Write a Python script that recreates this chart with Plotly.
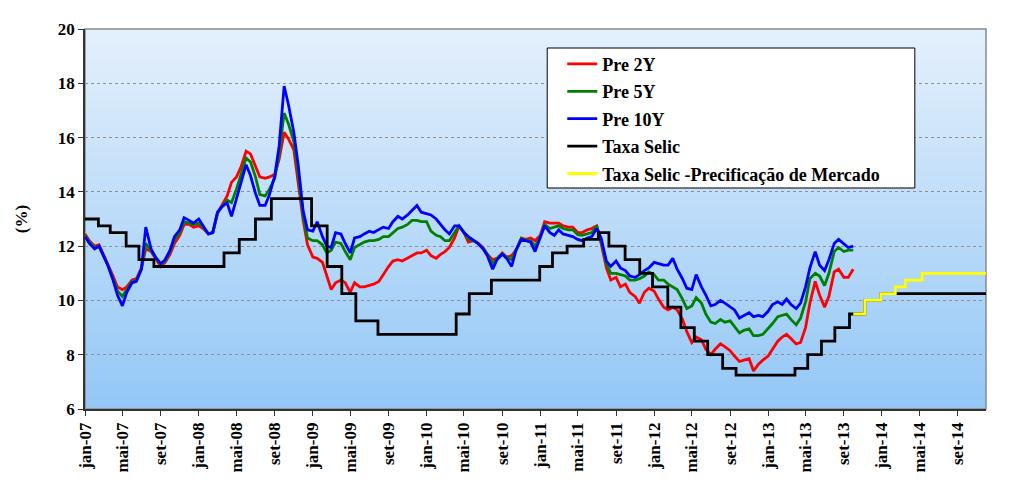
import pandas as pd
import plotly.graph_objects as go

# ---- Data ----
# Semi-monthly sampling dates for the yield curves (Jan 2007 - Sep 2013)
curve_dates = pd.date_range("2007-01-01", periods=163, freq="SMS")

pre_2y = [12.45, 12.2, 12.0, 12.05, 11.7, 11.35, 10.9, 10.5, 10.4, 10.5, 10.75, 10.8,
          11.2, 11.9, 11.8, 11.55, 11.25, 11.4, 11.7, 12.1, 12.4, 12.8, 12.8, 12.7,
          12.75, 12.65, 12.45, 12.5, 13.2, 13.5, 13.85, 14.35, 14.55, 14.9, 15.5, 15.4,
          14.95, 14.55, 14.5, 14.55, 14.65, 15.2, 16.2, 15.95, 15.55, 14.3, 12.95, 12.05,
          11.6, 11.55, 11.4, 10.9, 10.4, 10.65, 10.75, 10.65, 10.3, 10.65, 10.5, 10.5,
          10.55, 10.6, 10.7, 10.95, 11.25, 11.45, 11.5, 11.45, 11.55, 11.65, 11.75, 11.75,
          11.85, 11.65, 11.55, 11.7, 11.8, 11.95, 12.3, 12.75, 12.5, 12.15, 12.2, 12.1,
          11.95, 11.7, 11.5, 11.55, 11.75, 11.6, 11.65, 11.85, 12.3, 12.25, 12.3, 12.2,
          12.4, 12.9, 12.85, 12.85, 12.85, 12.75, 12.7, 12.7, 12.5, 12.5, 12.6, 12.65,
          12.75, 12.1, 11.2, 10.75, 10.85, 10.5, 10.6, 10.3, 10.15, 9.9, 10.3, 10.45,
          10.35, 10.05, 9.75, 9.65, 9.75, 9.65, 9.3, 8.85, 8.45, 8.65, 8.55, 8.2,
          8.0, 8.2, 8.4, 8.3, 8.15, 7.95, 7.75, 7.8, 7.85, 7.4, 7.65, 7.8,
          7.95, 8.2, 8.5, 8.65, 8.75, 8.6, 8.4, 8.45, 9.0, 9.9, 10.7, 10.2,
          9.75, 10.15, 11.05, 11.15, 10.85, 10.85, 11.15]

pre_5y = [12.4, 12.15, 11.95, 12.0, 11.65, 11.3, 10.8, 10.35, 10.15, 10.4, 10.7, 10.75,
          11.15, 12.1, 11.85, 11.6, 11.35, 11.45, 11.8, 12.25, 12.5, 12.9, 12.85, 12.8,
          12.85, 12.7, 12.45, 12.5, 13.2, 13.45, 13.7, 13.6, 14.1, 14.65, 15.25, 15.1,
          14.55, 13.9, 13.85, 14.1, 14.5, 15.4, 16.9, 16.5, 15.85, 14.65, 13.1, 12.3,
          12.2, 12.2, 12.05, 11.75, 11.85, 12.15, 12.1, 11.8, 11.5, 11.95, 12.05, 12.15,
          12.2, 12.2, 12.25, 12.35, 12.35, 12.5, 12.65, 12.7, 12.8, 12.95, 12.95, 12.9,
          12.9, 12.55, 12.4, 12.35, 12.2, 12.2, 12.5, 12.75, 12.5, 12.25, 12.2, 12.1,
          11.92, 11.7, 11.35, 11.55, 11.72, 11.6, 11.5, 11.85, 12.28, 12.22, 12.2, 12.0,
          12.35, 12.8, 12.65, 12.7, 12.75, 12.65, 12.6, 12.6, 12.42, 12.4, 12.45, 12.5,
          12.75, 12.2, 11.35, 11.0, 11.0, 10.95, 10.9, 10.75, 10.75, 10.8, 10.9, 11.05,
          10.95, 10.75, 10.75, 10.6, 10.5, 10.4, 10.05, 9.7, 9.8, 10.1, 9.9, 9.5,
          9.2, 9.15, 9.3, 9.2, 9.25, 9.05, 8.8, 8.9, 8.95, 8.7, 8.7, 8.75,
          8.95, 9.15, 9.4, 9.45, 9.5, 9.3, 9.1, 9.35, 9.95, 10.8, 11.0, 10.9,
          10.55, 11.0, 11.8, 11.95, 11.8, 11.85, 11.85]

pre_10y = [12.35, 12.1, 11.9, 12.0, 11.65, 11.3, 10.75, 10.2, 9.8, 10.3, 10.65, 10.7,
           11.15, 12.7, 11.9, 11.6, 11.35, 11.5, 11.85, 12.35, 12.6, 13.05, 12.95, 12.85,
           13.0, 12.75, 12.45, 12.5, 13.25, 13.45, 13.6, 13.1, 13.75, 14.4, 15.0, 14.6,
           13.95, 13.5, 13.5, 13.9, 14.6, 15.7, 17.9, 17.2, 16.2, 15.0, 13.3, 12.6,
           12.55, 12.9, 12.35, 12.0, 11.95, 12.5, 12.45, 12.1, 11.75, 12.3, 12.35, 12.45,
           12.55, 12.5, 12.6, 12.7, 12.65, 12.9, 13.1, 13.0, 13.15, 13.3, 13.5, 13.25,
           13.2, 13.15, 13.0, 12.8, 12.6, 12.45, 12.75, 12.75, 12.5, 12.35, 12.2, 12.1,
           11.9, 11.65, 11.15, 11.5, 11.7, 11.55, 11.25, 11.85, 12.25, 12.2, 12.15, 11.8,
           12.3, 12.75, 12.5, 12.4, 12.6, 12.45, 12.4, 12.35, 12.25, 12.2, 12.3, 12.35,
           12.65, 12.3, 11.45, 11.25, 11.45, 11.2, 11.1, 10.9, 10.85, 10.95, 11.1, 11.2,
           11.4, 11.35, 11.3, 11.3, 11.55, 11.15, 10.8, 10.45, 10.4, 10.95, 10.5, 10.2,
           9.8, 9.85, 10.0, 9.9, 9.75, 9.65, 9.35, 9.45, 9.55, 9.4, 9.45, 9.4,
           9.6, 9.85, 9.95, 9.85, 10.05, 9.85, 9.7, 9.9, 10.5, 11.2, 11.8, 11.3,
           11.1, 11.5, 12.1, 12.25, 12.1, 11.95, 12.0]

selic_dates = ["2007-01-01", "2007-02-13", "2007-03-23", "2007-05-13", "2007-06-23",
               "2007-08-10", "2008-03-22", "2008-05-10", "2008-07-01", "2008-08-21",
               "2008-12-28", "2009-02-16", "2009-04-04", "2009-05-19", "2009-07-29",
               "2010-04-06", "2010-05-18", "2010-07-28", "2010-12-30", "2011-02-09",
               "2011-03-28", "2011-05-20", "2011-07-06", "2011-08-09", "2011-09-30",
               "2011-11-16", "2011-12-27", "2012-02-14", "2012-03-27", "2012-05-09",
               "2012-06-21", "2012-08-08", "2012-09-20", "2013-03-28", "2013-05-08",
               "2013-06-21", "2013-08-03", "2013-09-19", "2013-11-07", "2013-12-28",
               "2014-12-01"]
selic_values = [13.0, 12.75, 12.5, 12.0, 11.5,
                11.25, 11.75, 12.25, 13.0, 13.75,
                12.75, 11.25, 10.25, 9.25, 8.75,
                9.5, 10.25, 10.75, 11.25, 11.75,
                12.0, 12.25, 12.5, 12.0, 11.5,
                11.0, 10.5, 9.75, 9.0, 8.5,
                8.0, 7.5, 7.25, 7.5, 8.0,
                8.5, 9.0, 9.5, 10.0, 10.25,
                10.25]

market_dates = ["2013-10-01", "2013-11-07", "2013-12-28", "2014-02-13",
                "2014-03-17", "2014-05-10", "2014-12-01"]
market_values = [9.5, 10.0, 10.25, 10.5, 10.75, 11.0, 11.0]

tick_dates = ["2007-01-01", "2007-05-01", "2007-09-01", "2008-01-01", "2008-05-01",
              "2008-09-01", "2009-01-01", "2009-05-01", "2009-09-01", "2010-01-01",
              "2010-05-01", "2010-09-01", "2011-01-01", "2011-05-01", "2011-09-01",
              "2012-01-01", "2012-05-01", "2012-09-01", "2013-01-01", "2013-05-01",
              "2013-09-01", "2014-01-01", "2014-05-01", "2014-09-01"]
tick_labels = ["jan-07", "mai-07", "set-07", "jan-08", "mai-08", "set-08", "jan-09",
               "mai-09", "set-09", "jan-10", "mai-10", "set-10", "jan-11", "mai-11",
               "set-11", "jan-12", "mai-12", "set-12", "jan-13", "mai-13", "set-13",
               "jan-14", "mai-14", "set-14"]

FONT = "Liberation Serif, Times New Roman, serif"

fig = go.Figure()
series = [
    ("Pre 2Y", curve_dates, pre_2y, "#ff0000", "linear"),
    ("Pre 5Y", curve_dates, pre_5y, "#008000", "linear"),
    ("Pre 10Y", curve_dates, pre_10y, "#0000ff", "linear"),
    ("Taxa Selic", selic_dates, selic_values, "#000000", "hv"),
    ("Taxa Selic -Precificação de Mercado", market_dates, market_values, "#ffff00", "hv"),
]
for i, (name, xs, ys, color, shape) in enumerate(series):
    fig.add_trace(go.Scatter(
        x=xs, y=ys, name=name, mode="lines", legendgroup=f"g{i}",
        line=dict(color=color, width=2.8, shape=shape),
    ))

# gradient background for the plot area
shapes = []
n_bands = 80
top = (228, 240, 252)
bot = (148, 199, 246)
for i in range(n_bands):
    t = i / (n_bands - 1)
    c = tuple(round(top[j] + (bot[j] - top[j]) * t) for j in range(3))
    y1 = 1 - i / n_bands
    y0 = 1 - (i + 1) / n_bands
    shapes.append(dict(type="rect", xref="paper", yref="paper", x0=0, x1=1,
                       y0=y0 - 0.001, y1=y1 + 0.001, layer="below",
                       line=dict(width=0), fillcolor=f"rgb{c}"))
shapes.append(dict(type="rect", xref="paper", yref="paper", x0=0, x1=1, y0=0, y1=1,
                   layer="below", line=dict(color="#8a8a8a", width=1.5)))
# legend frame (white box with black border)
shapes.append(dict(type="rect", xref="paper", yref="paper", x0=0.513, x1=0.921,
                   y0=0.5816, y1=0.95, layer="above",
                   line=dict(color="black", width=1), fillcolor="white"))

# page body has an 8px margin, so the figure is drawn at (8, 8)
fig.update_layout(
    width=1016, height=494,
    margin=dict(l=77, r=38, t=21, b=93),
    paper_bgcolor="white",
    plot_bgcolor="rgba(0,0,0,0)",
    shapes=shapes,
    showlegend=True,
    legend=dict(
        x=0.5297, y=0.956, xanchor="left", yanchor="top",
        bgcolor="rgba(0,0,0,0)", borderwidth=0,
        font=dict(family=FONT, size=18, color="black", weight="bold"),
        tracegroupgap=1, itemwidth=30,
    ),
    xaxis=dict(
        type="date", range=["2007-01-01", "2014-12-01"],
        tickvals=tick_dates, ticktext=tick_labels, tickangle=-90,
        tickfont=dict(family=FONT, size=17, color="black", weight="bold"),
        showgrid=False, showline=True, linecolor="#333333", linewidth=1.5,
        ticks="outside", ticklen=5, tickcolor="#333333", zeroline=False,
    ),
    yaxis=dict(
        range=[6, 20], dtick=2, tick0=6,
        tickfont=dict(family=FONT, size=17, color="black", weight="bold"),
        showgrid=True, gridcolor="#8f8f8f", gridwidth=1, griddash="3px,3px",
        showline=True, linecolor="#333333", linewidth=1.5,
        ticks="outside", ticklen=5, tickcolor="#333333", zeroline=False,
        title=dict(text="(%)", font=dict(family=FONT, size=17, color="black", weight="bold"),
                   standoff=26),
    ),
)

fig.write_html("out.html")
